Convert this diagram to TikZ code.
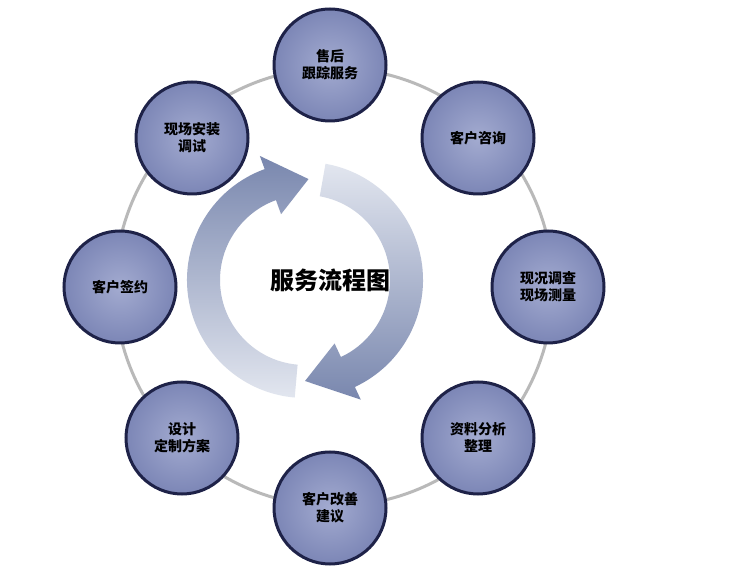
\documentclass[tikz,border=0pt]{standalone}
\usepackage{fontspec}
\newfontfamily\cjk{Noto Sans CJK SC}
\definecolor{nodein}{HTML}{A3ABD0}
\definecolor{nodeout}{HTML}{7C86B6}
\definecolor{nodeline}{HTML}{1E2248}
\definecolor{arrdark}{HTML}{7987AE}
\definecolor{arrlight}{HTML}{E2E6EF}
\tikzset{
 stage/.style={circle,minimum size=112pt,inner sep=0pt,draw=nodeline,line width=3pt,
  inner color=nodein,outer color=nodeout,font=\cjk\bfseries\fontsize{14pt}{17pt}\selectfont,align=center,text=black},
}
\begin{document}
\begin{tikzpicture}[x=1pt,y=1pt]
\useasboundingbox (0,0) rectangle (733,570);
\fill[white] (0,0) rectangle (733,570);
\coordinate (c) at (334,283);
\draw[gray!55,line width=3pt] (c) circle (219);
% arrows
\begin{scope}[shift={(305,290)}]
\shade[top color=arrdark,bottom color=arrlight]
 (265:85) arc (265:110:85) -- (110:70) -- (88:101) -- (110:132) -- (110:118) arc (110:265:118) -- cycle;
\shade[top color=arrlight,bottom color=arrdark]
 (80:85) arc (80:-65:85) -- (-65:70) -- (-90:101) -- (-65:132) -- (-65:118) arc (-65:80:118) -- cycle;
\end{scope}
\node[font=\cjk\bfseries\fontsize{24pt}{28pt}\selectfont] (t) at (330,290) {服务流程图};
\node[stage] (a) at (330,505) {售后\\跟踪服务};
\node[stage] (b) at (478,432) {客户咨询};
\node[stage] (d) at (548,283) {现况调查\\现场测量};
\node[stage] (e) at (478,132) {资料分析\\整理};
\node[stage] (f) at (330,62) {客户改善\\建议};
\node[stage] (g) at (182,132) {设计\\定制方案};
\node[stage] (h) at (120,283) {客户签约};
\node[stage] (i) at (192,432) {现场安装\\调试};
\end{tikzpicture}
\end{document}
